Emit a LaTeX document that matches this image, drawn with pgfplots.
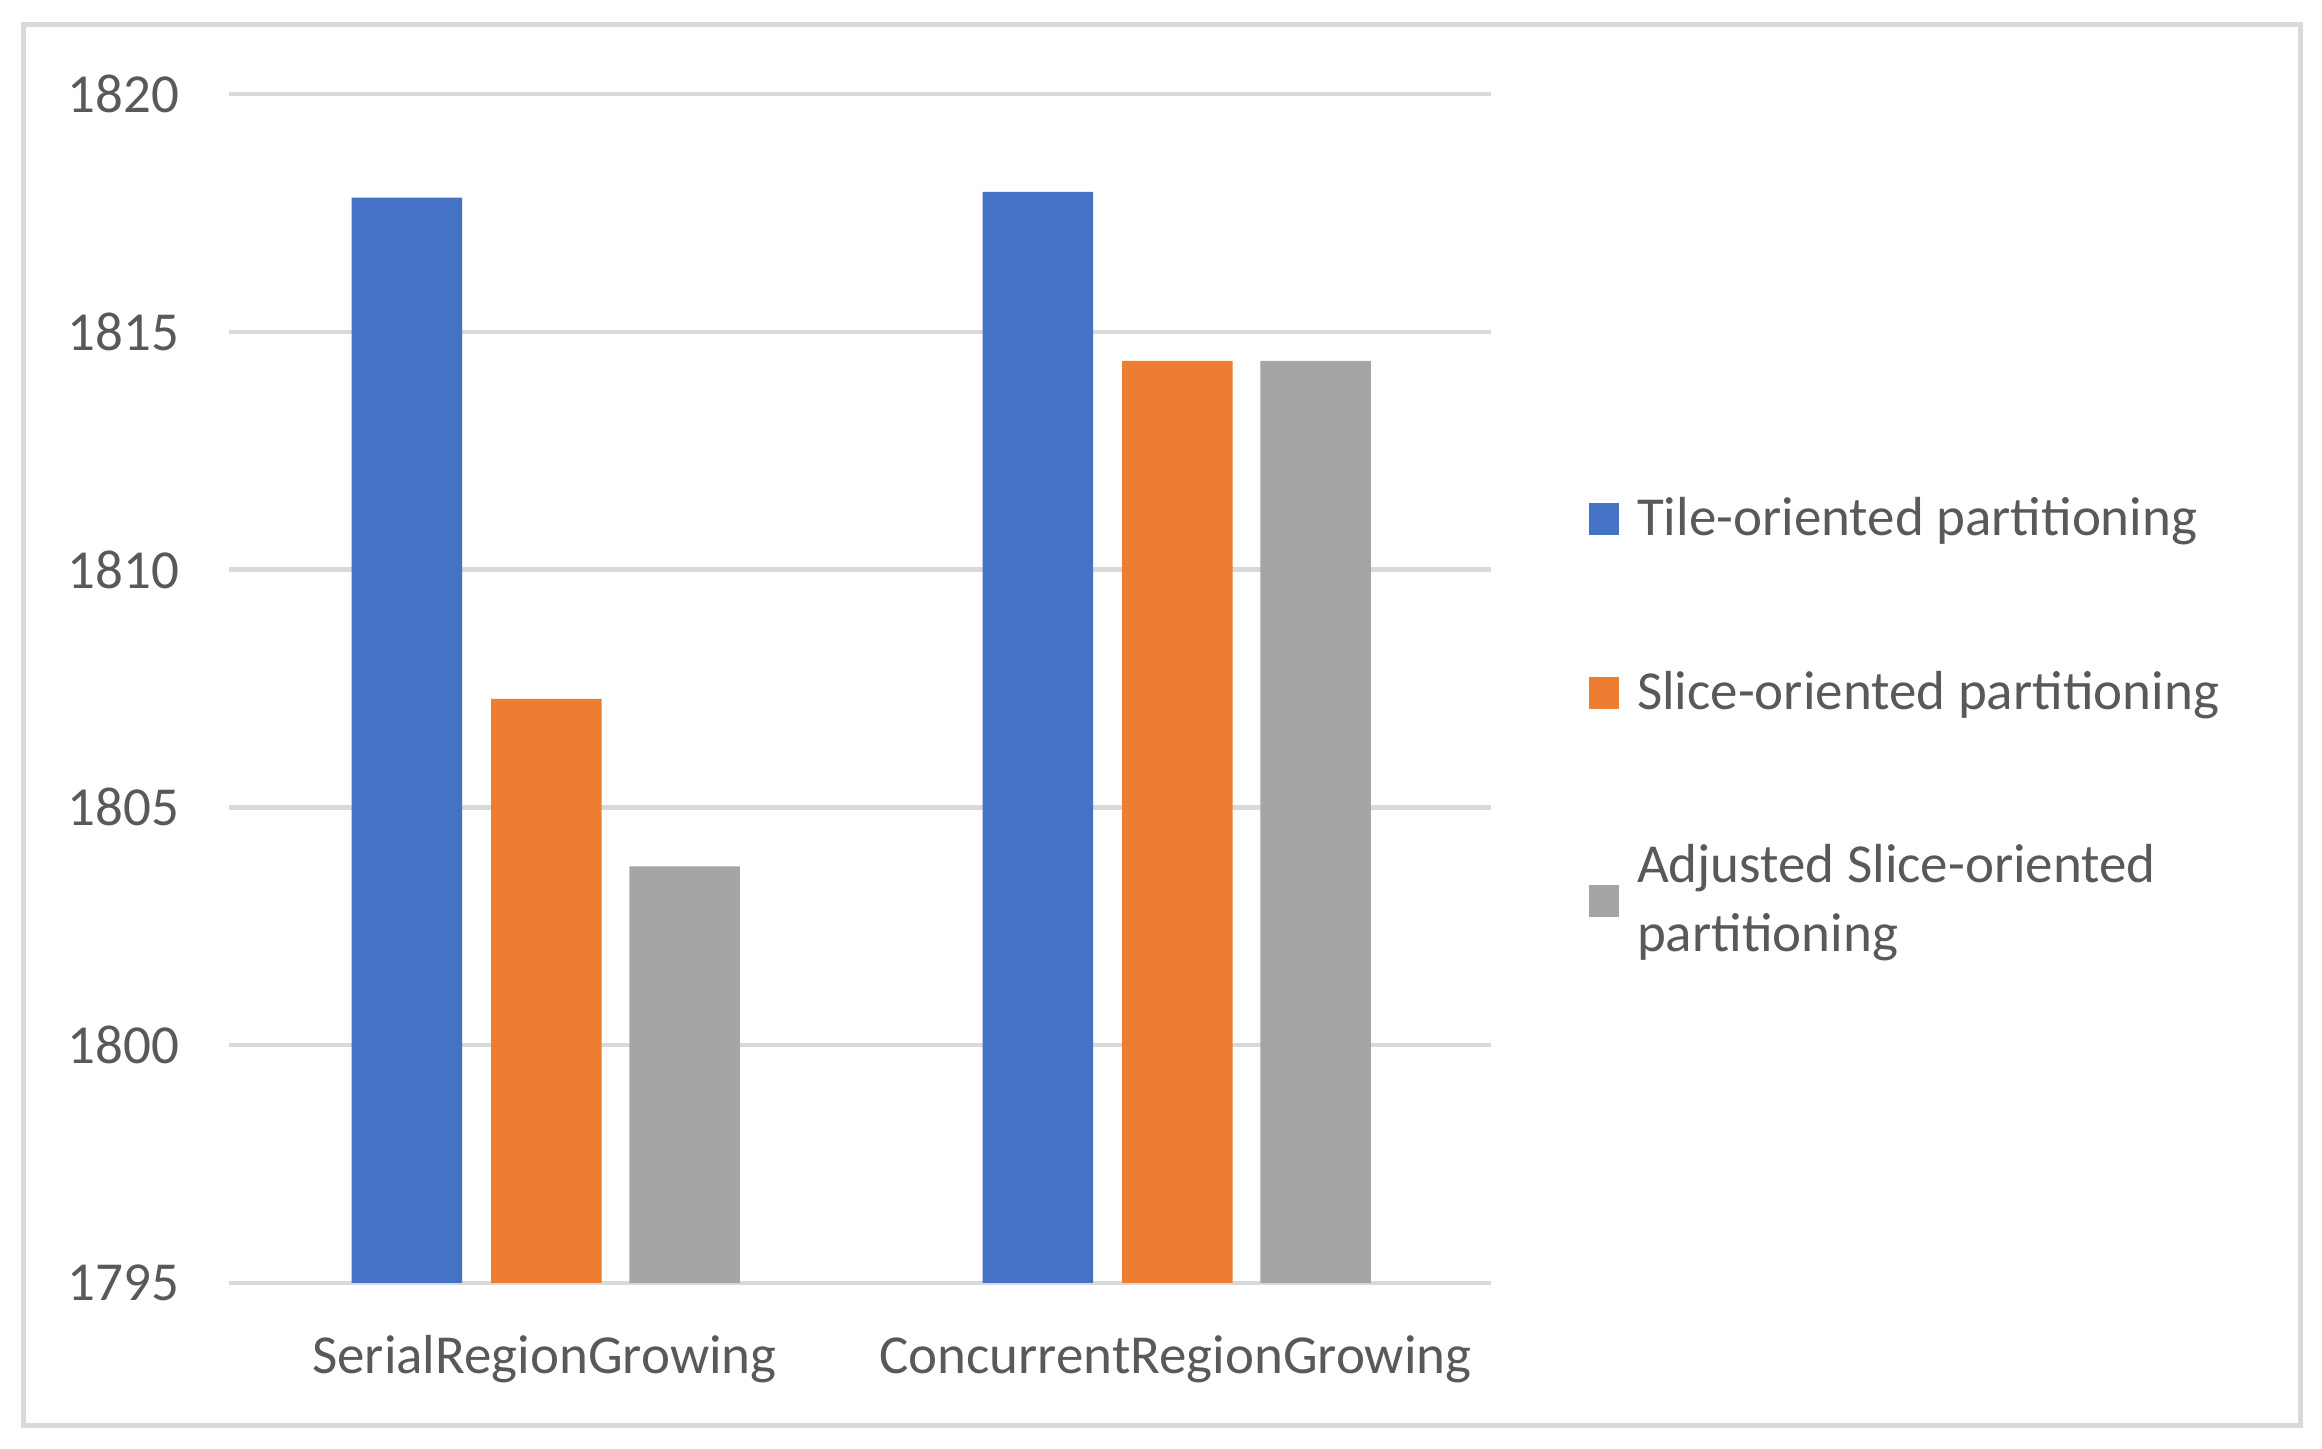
\documentclass[border=0pt]{standalone}
\usepackage{fontspec}
\setmainfont{Carlito}
\usepackage{pgfplots}
\pgfplotsset{compat=1.18}

\definecolor{cblue}{HTML}{4472C4}
\definecolor{corange}{HTML}{ED7D31}
\definecolor{cgray}{HTML}{A5A5A5}
\definecolor{ctext}{HTML}{595959}
\definecolor{cgrid}{HTML}{D9D9D9}

\begin{document}
\begin{tikzpicture}
% page = 2322 x 1449 px at 0.2bp per px
\useasboundingbox (0,0) rectangle (464.4bp,289.8bp);
\draw[cgrid, line width=1bp] (4.6bp,4.6bp) rectangle (460bp,284.8bp);

\begin{axis}[
    at={(45.8bp,33.2bp)}, anchor=south west,
    scale only axis, width=252.4bp, height=237.8bp,
    ybar,
    bar width=0.175,
    xmin=-0.5, xmax=1.5,
    ymin=1795, ymax=1820,
    ytick={1795,1800,...,1820},
    xtick={0,1},
    xticklabels={SerialRegionGrowing,ConcurrentRegionGrowing},
    ymajorgrids,
    grid style={cgrid, line width=0.9bp},
    axis line style={draw=none},
    major tick style={draw=none},
    /pgf/number format/1000 sep={},
    /pgf/number format/assume math mode=true,
    tick label style={font=\fontsize{11bp}{13bp}\selectfont, text=ctext, inner sep=0pt},
    yticklabel style={anchor=east, xshift=-9.8bp},
    xticklabel style={anchor=base, yshift=-13.9bp},
    legend style={
        at={(1.0777,0.6608)}, anchor=north west,
        draw=none, fill=none, inner sep=0pt, outer sep=0pt,
        font=\fontsize{11bp}{13.8bp}\selectfont, text=ctext,
        nodes={inner sep=0pt, align=left},
        row sep=25.6bp, column sep=3.6bp,
    },
    legend cell align=left,
    legend image code/.code={\fill[#1] (0bp,-3bp) rectangle (6bp,3.4bp);},
]
\addplot[fill=cblue, draw=none, bar shift=-0.218] coordinates {(0,1817.82) (1,1817.94)};
\addplot[fill=corange, draw=none, bar shift=0.003] coordinates {(0,1807.28) (1,1814.39)};
\addplot[fill=cgray, draw=none, bar shift=0.222] coordinates {(0,1803.76) (1,1814.39)};
\legend{Tile-oriented partitioning, Slice-oriented partitioning, {Adjusted Slice-oriented\\partitioning}}
\end{axis}
\end{tikzpicture}
\end{document}
